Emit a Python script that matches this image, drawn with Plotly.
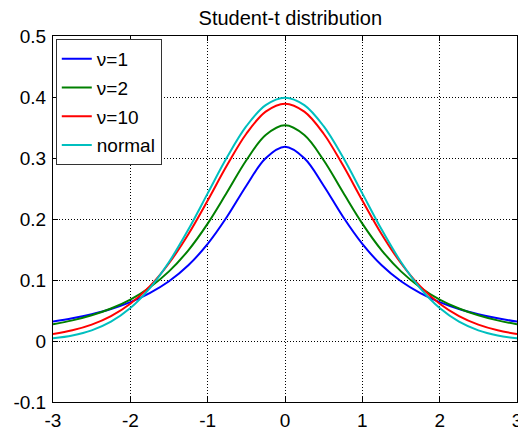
import plotly.graph_objects as go

x_vals = [-3.0, -2.75, -2.5, -2.25, -2.0, -1.75, -1.5, -1.25, -1.0, -0.75, -0.5, -0.25,
          0.0, 0.25, 0.5, 0.75, 1.0, 1.25, 1.5, 1.75, 2.0, 2.25, 2.5, 2.75, 3.0]

half_nu1 = [0.3183, 0.2996, 0.2546, 0.2037, 0.1592, 0.1241, 0.0979, 0.0785, 0.0637, 0.0524, 0.0439, 0.0372, 0.0318]
half_nu2 = [0.3536, 0.3376, 0.2963, 0.2438, 0.1925, 0.1487, 0.1141, 0.0878, 0.0680, 0.0533, 0.0422, 0.0338, 0.0274]
half_nu10 = [0.3891, 0.3760, 0.3397, 0.2880, 0.2304, 0.1751, 0.1275, 0.0895, 0.0611, 0.0409, 0.0269, 0.0176, 0.0114]
half_norm = [0.3989, 0.3867, 0.3521, 0.3011, 0.2420, 0.1826, 0.1295, 0.0863, 0.0540, 0.0317, 0.0175, 0.0091, 0.0044]

y_nu1 = half_nu1[:0:-1] + half_nu1
y_nu2 = half_nu2[:0:-1] + half_nu2
y_nu10 = half_nu10[:0:-1] + half_nu10
y_norm = half_norm[:0:-1] + half_norm

series_names = ["ν=1", "ν=2", "ν=10", "normal"]
series_colors = ["#0000ff", "#008000", "#ff0000", "#00bfbf"]
series_values = [y_nu1, y_nu2, y_nu10, y_norm]

x_ticks = [-3, -2, -1, 0, 1, 2, 3]
x_tick_labels = ["-3", "-2", "-1", "0", "1", "2", "3"]
y_ticks = [-0.1, 0, 0.1, 0.2, 0.3, 0.4, 0.5]
y_tick_labels = ["-0.1", "0", "0.1", "0.2", "0.3", "0.4", "0.5"]

font_family = "Liberation Sans, Arial, sans-serif"

fig = go.Figure()
for i, (name, color, vals) in enumerate(zip(series_names, series_colors, series_values)):
    fig.add_trace(go.Scatter(x=x_vals, y=vals, mode="lines", name=name, legendgroup=f"g{i}",
                             line=dict(color=color, width=2, shape="spline", smoothing=1.0)))

axis_common = dict(
    showline=True, linecolor="black", linewidth=1, mirror="ticks",
    ticks="inside", ticklen=5, tickcolor="black",
    showgrid=True, gridcolor="black", griddash="1px,2px", gridwidth=1,
    zeroline=False, ticklabeloverflow="allow",
    tickfont=dict(family=font_family, size=19, color="black"),
)

fig.update_xaxes(range=[-3, 3], tickvals=x_ticks, ticktext=x_tick_labels, ticklabelstandoff=1, **axis_common)
fig.update_yaxes(range=[-0.1, 0.5], tickvals=y_ticks, ticktext=y_tick_labels, ticklabelstandoff=2, **axis_common)

fig.update_layout(
    width=518, height=427,
    margin=dict(l=45, r=4, t=28, b=32),
    paper_bgcolor="white", plot_bgcolor="white",
    title=dict(text="Student-t distribution", x=0.545, xanchor="center",
               y=0.976, yanchor="middle",
               font=dict(family=font_family, size=20, color="black")),
    showlegend=True,
    legend=dict(x=0.006, y=0.992, xanchor="left", yanchor="top",
                bgcolor="white", bordercolor="#333333", borderwidth=1,
                font=dict(family=font_family, size=19, color="black"),
                tracegroupgap=1, itemwidth=30),
)

fig.write_html("out.html")
